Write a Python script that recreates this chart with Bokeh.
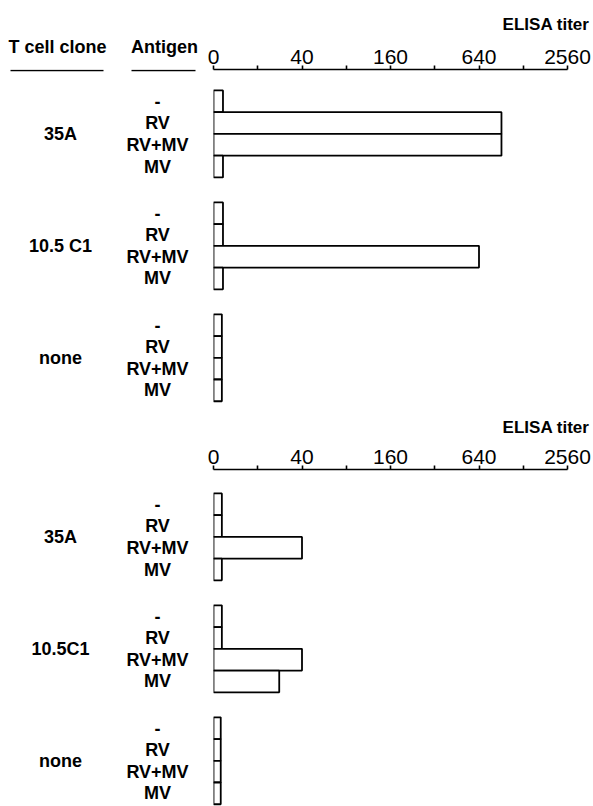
from bokeh.plotting import figure
from bokeh.layouts import column, row
from bokeh.models import ColumnDataSource, Range1d
from bokeh.core.properties import value
from bokeh.embed import file_html
from bokeh.resources import INLINE

# ---------------- data ----------------
antigens = ["-", "RV", "RV+MV", "MV"]
clones_top = ["35A", "10.5 C1", "none"]
clones_bottom = ["35A", "10.5C1", "none"]
titer_top_35A = [11.6, 910, 910, 11.6]
titer_top_105C1 = [11.6, 11.6, 640, 11.6]
titer_top_none = [11.4, 11.4, 11.4, 11.4]
titer_bot_35A = [11.4, 11.4, 40, 11.4]
titer_bot_105C1 = [11.4, 11.4, 40, 28]
titer_bot_none = [11.2, 11.2, 11.2, 11.2]
tick_values = [10, 20, 40, 80, 160, 320, 640, 1280, 2560]
tick_labels = ["0", "", "40", "", "160", "", "640", "", "2560"]
axis_title = "ELISA titer"
header_clone = "T cell clone"
header_antigen = "Antigen"

# ---------------- layout constants ----------------
W = 593
SPLIT = 198          # width of the label strip
AX_L, AX_R = 213, 567
U = 21.8             # px per bar
GAP = 1.15           # gap between groups, in bar units
LBL_FONT = "Liberation Sans"
TICK_FONT = "Liberation Sans"
PX_PER_DOUBLING = (AX_R - AX_L) / 8.0


def bar_positions(titers):
    ys, rights, texts, gys = [], [], [], []
    for g, vals in enumerate(titers):
        base = g * (4 + GAP)
        gys.append(base + 1.5)
        for b, v in enumerate(vals):
            ys.append(base + b)
            rights.append(v)
            texts.append(antigens[b])
    return ys, rights, texts, gys


def y_extent(height, axis_y, first_bar_y, top_canvas):
    border_top = axis_y - top_canvas
    y_top = -0.5 - (first_bar_y - axis_y) / U
    y_bot = y_top + (height - border_top) / U
    return y_top, y_bot, border_top


def clean(p):
    p.outline_line_color = None
    p.xgrid.grid_line_color = None
    p.ygrid.grid_line_color = None
    p.background_fill_color = "white"
    p.border_fill_color = "white"


def label_panel(clones, titers, height, axis_y, first_bar_y, top_canvas, headers):
    y_top, y_bot, border_top = y_extent(height, axis_y, first_bar_y, top_canvas)
    p = figure(width=SPLIT, height=height, x_range=Range1d(0, SPLIT),
               y_range=Range1d(y_bot, y_top),
               x_axis_location="above", y_axis_location=None,
               output_backend="svg", toolbar_location=None,
               min_border_left=0, min_border_right=0,
               min_border_top=border_top, min_border_bottom=0)
    clean(p)
    ax = p.xaxis[0]
    if headers:
        ax.ticker = [57, 164]
        ax.major_label_overrides = {57: header_clone, 164: header_antigen}
    else:
        ax.ticker = []
    ax.axis_line_color = None
    ax.major_tick_line_color = None
    ax.minor_tick_line_color = None
    ax.major_tick_out = 0
    ax.major_tick_in = 0
    ax.major_label_standoff = 13
    ax.major_label_text_font = LBL_FONT
    ax.major_label_text_font_size = "18px"
    ax.major_label_text_font_style = "bold"
    ax.major_label_text_color = "black"

    ys, rights, texts, gys = bar_positions(titers)
    src = ColumnDataSource(dict(y=ys, text=texts))
    p.text(x=157, y="y", text="text", source=src, text_align="center",
           text_baseline="middle", text_font=value(LBL_FONT), text_font_size="18px",
           text_font_style="bold", text_color="black")
    gsrc = ColumnDataSource(dict(y=gys, text=clones))
    p.text(x=60, y="y", text="text", source=gsrc, text_align="center",
           text_baseline="middle", text_font=value(LBL_FONT), text_font_size="18px",
           text_font_style="bold", text_color="black")
    if headers:
        uy = y_top + 1.0 / U
        p.segment(x0=[10, 131], x1=[103, 195], y0=[uy, uy], y1=[uy, uy],
                  line_color="black", line_width=1.6)
    return p


def bar_panel(titers, height, axis_y, first_bar_y, top_canvas, title_standoff):
    y_top, y_bot, border_top = y_extent(height, axis_y, first_bar_y, top_canvas)
    x_end = tick_values[-1] * 2 ** ((W - AX_R) / PX_PER_DOUBLING)
    p = figure(width=W - SPLIT, height=height, x_axis_type="log",
               x_range=Range1d(tick_values[0], x_end),
               y_range=Range1d(y_bot, y_top),
               x_axis_location="above", y_axis_location=None,
               output_backend="svg", toolbar_location=None,
               min_border_left=AX_L - SPLIT, min_border_right=0,
               min_border_top=border_top, min_border_bottom=0)
    clean(p)

    p.title.text = axis_title
    p.title.align = "right"
    p.title.offset = 4
    p.title.standoff = title_standoff
    p.title.text_font = LBL_FONT
    p.title.text_font_size = "17px"
    p.title.text_font_style = "bold"
    p.title.text_color = "black"

    ax = p.xaxis[0]
    ax.ticker = tick_values
    ax.bounds = (tick_values[0], tick_values[-1])
    ax.major_label_overrides = {v: t for v, t in zip(tick_values, tick_labels)}
    ax.minor_tick_line_color = None
    ax.major_tick_in = 0
    ax.major_tick_out = 4
    ax.major_label_standoff = 2
    ax.axis_line_width = 1.6
    ax.major_tick_line_width = 1.6
    ax.axis_line_color = "black"
    ax.major_label_text_font = TICK_FONT
    ax.major_label_text_font_size = "21px"
    ax.major_label_text_color = "black"

    ys, rights, texts, gys = bar_positions(titers)
    src = ColumnDataSource(dict(y=ys, right=rights))
    p.hbar(y="y", left=tick_values[0], right="right", height=1.0, source=src,
           fill_color="white", line_color="black", line_width=1.8)
    return p


top_titers = [titer_top_35A, titer_top_105C1, titer_top_none]
bot_titers = [titer_bot_35A, titer_bot_105C1, titer_bot_none]

TOP_H = 406
l1 = label_panel(clones_top, top_titers, TOP_H, 68, 89, 0, True)
r1 = bar_panel(top_titers, TOP_H, 68, 89, 0, 25)
l2 = label_panel(clones_bottom, bot_titers, 806 - TOP_H, 468, 492, TOP_H, False)
r2 = bar_panel(bot_titers, 806 - TOP_H, 468, 492, TOP_H, 19)

layout = column(row(l1, r1), row(l2, r2))
open("out.html", "w").write(file_html(layout, INLINE))
